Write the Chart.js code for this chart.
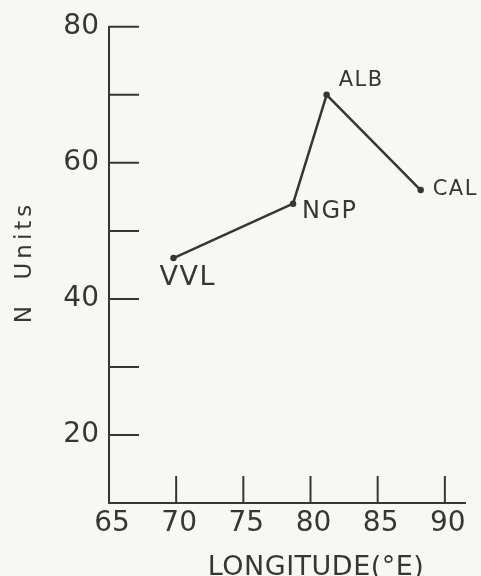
<!DOCTYPE html>
<html>
<head>
<meta charset="utf-8">
<script src="https://cdn.jsdelivr.net/npm/chart.js@4"></script>
<style>
  html, body { margin: 0; padding: 0; background: #f7f7f4; }
  canvas { display: block; }
</style>
</head>
<body>
<canvas id="myChart" width="481" height="576"></canvas>
<script>
const stations = ["VVL", "NGP", "ALB", "CAL"];
const longitude = [69.8, 78.7, 81.2, 88.2];
const nUnits = [46, 54, 70, 56];
const xTickValues = [65, 70, 75, 80, 85, 90];
const yTickValues = [20, 30, 40, 50, 60, 70, 80];
const yLabelled = [20, 40, 60, 80];

const ink = "#363636";
const family = "'DejaVu Sans', sans-serif";

// station name placement next to its point: dx, dy, font size
const nameOffsets = [[-14, 20, 27], [9, 8, 24], [12, -14, 21], [12, -1, 21]];

const inkPlugin = {
  id: "ink",
  beforeDraw(chart) {
    const { ctx, width, height } = chart;
    ctx.save();
    ctx.fillStyle = "#f7f7f4";
    ctx.fillRect(0, 0, width, height);
    ctx.restore();
  },
  afterDraw(chart) {
    const { ctx, chartArea: a } = chart;
    const xs = chart.scales.x;
    const ys = chart.scales.y;
    ctx.save();

    // tick marks point into the plot
    ctx.strokeStyle = ink;
    ctx.lineWidth = 2;
    ctx.beginPath();
    yTickValues.forEach((v) => {
      const py = ys.getPixelForValue(v);
      ctx.moveTo(a.left, py);
      ctx.lineTo(a.left + 30, py);
    });
    xTickValues.slice(1).forEach((v) => {
      const px = xs.getPixelForValue(v);
      ctx.moveTo(px, a.bottom);
      ctx.lineTo(px, a.bottom - 27);
    });
    ctx.stroke();

    // station names
    ctx.fillStyle = ink;
    ctx.textAlign = "left";
    ctx.textBaseline = "middle";
    ctx.letterSpacing = "1.5px";
    chart.getDatasetMeta(0).data.forEach((p, i) => {
      const [dx, dy, size] = nameOffsets[i];
      ctx.font = `${size}px ${family}`;
      ctx.fillText(stations[i], p.x + dx, p.y + dy);
    });

    // axis titles
    ctx.textAlign = "center";
    ctx.textBaseline = "alphabetic";
    ctx.font = `27px ${family}`;
    ctx.letterSpacing = "0.5px";
    ctx.fillText("LONGITUDE(°E)", a.left + 207, 575);

    ctx.translate(25, 262);
    ctx.rotate(-Math.PI / 2);
    ctx.textBaseline = "middle";
    ctx.font = `23px ${family}`;
    ctx.letterSpacing = "4px";
    ctx.fillText("N  Units", 0, 0);
    ctx.restore();
  },
};

new Chart(document.getElementById("myChart"), {
  type: "scatter",
  data: {
    datasets: [
      {
        data: longitude.map((lon, i) => ({ x: lon, y: nUnits[i] })),
        showLine: true,
        borderColor: ink,
        backgroundColor: ink,
        borderWidth: 2.5,
        borderJoinStyle: "round",
        pointRadius: 2,
        tension: 0,
      },
    ],
  },
  options: {
    responsive: false,
    animation: false,
    layout: {
      padding: { top: 24, right: 16, left: 0, bottom: 0 },
    },
    plugins: {
      legend: { display: false },
      tooltip: { enabled: false },
    },
    scales: {
      x: {
        type: "linear",
        min: 65,
        max: 91.5,
        afterBuildTicks: (s) => {
          s.ticks = xTickValues.map((v) => ({ value: v }));
        },
        afterFit: (s) => {
          s.height = 73;
        },
        grid: { display: false, drawTicks: false },
        border: { color: ink, width: 2 },
        ticks: {
          color: ink,
          font: { family: family, size: 28 },
          padding: 4,
          labelOffset: 3,
          maxRotation: 0,
          autoSkip: false,
        },
      },
      y: {
        type: "linear",
        min: 10,
        max: 80,
        afterBuildTicks: (s) => {
          s.ticks = yTickValues.map((v) => ({ value: v }));
        },
        afterFit: (s) => {
          s.width = 109;
        },
        grid: { display: false, drawTicks: false },
        border: { color: ink, width: 2 },
        ticks: {
          color: ink,
          font: { family: family, size: 28 },
          padding: 10,
          autoSkip: false,
          callback: (v) => (yLabelled.includes(v) ? String(v) : ""),
        },
      },
    },
  },
  plugins: [inkPlugin],
});
</script>
</body>
</html>
